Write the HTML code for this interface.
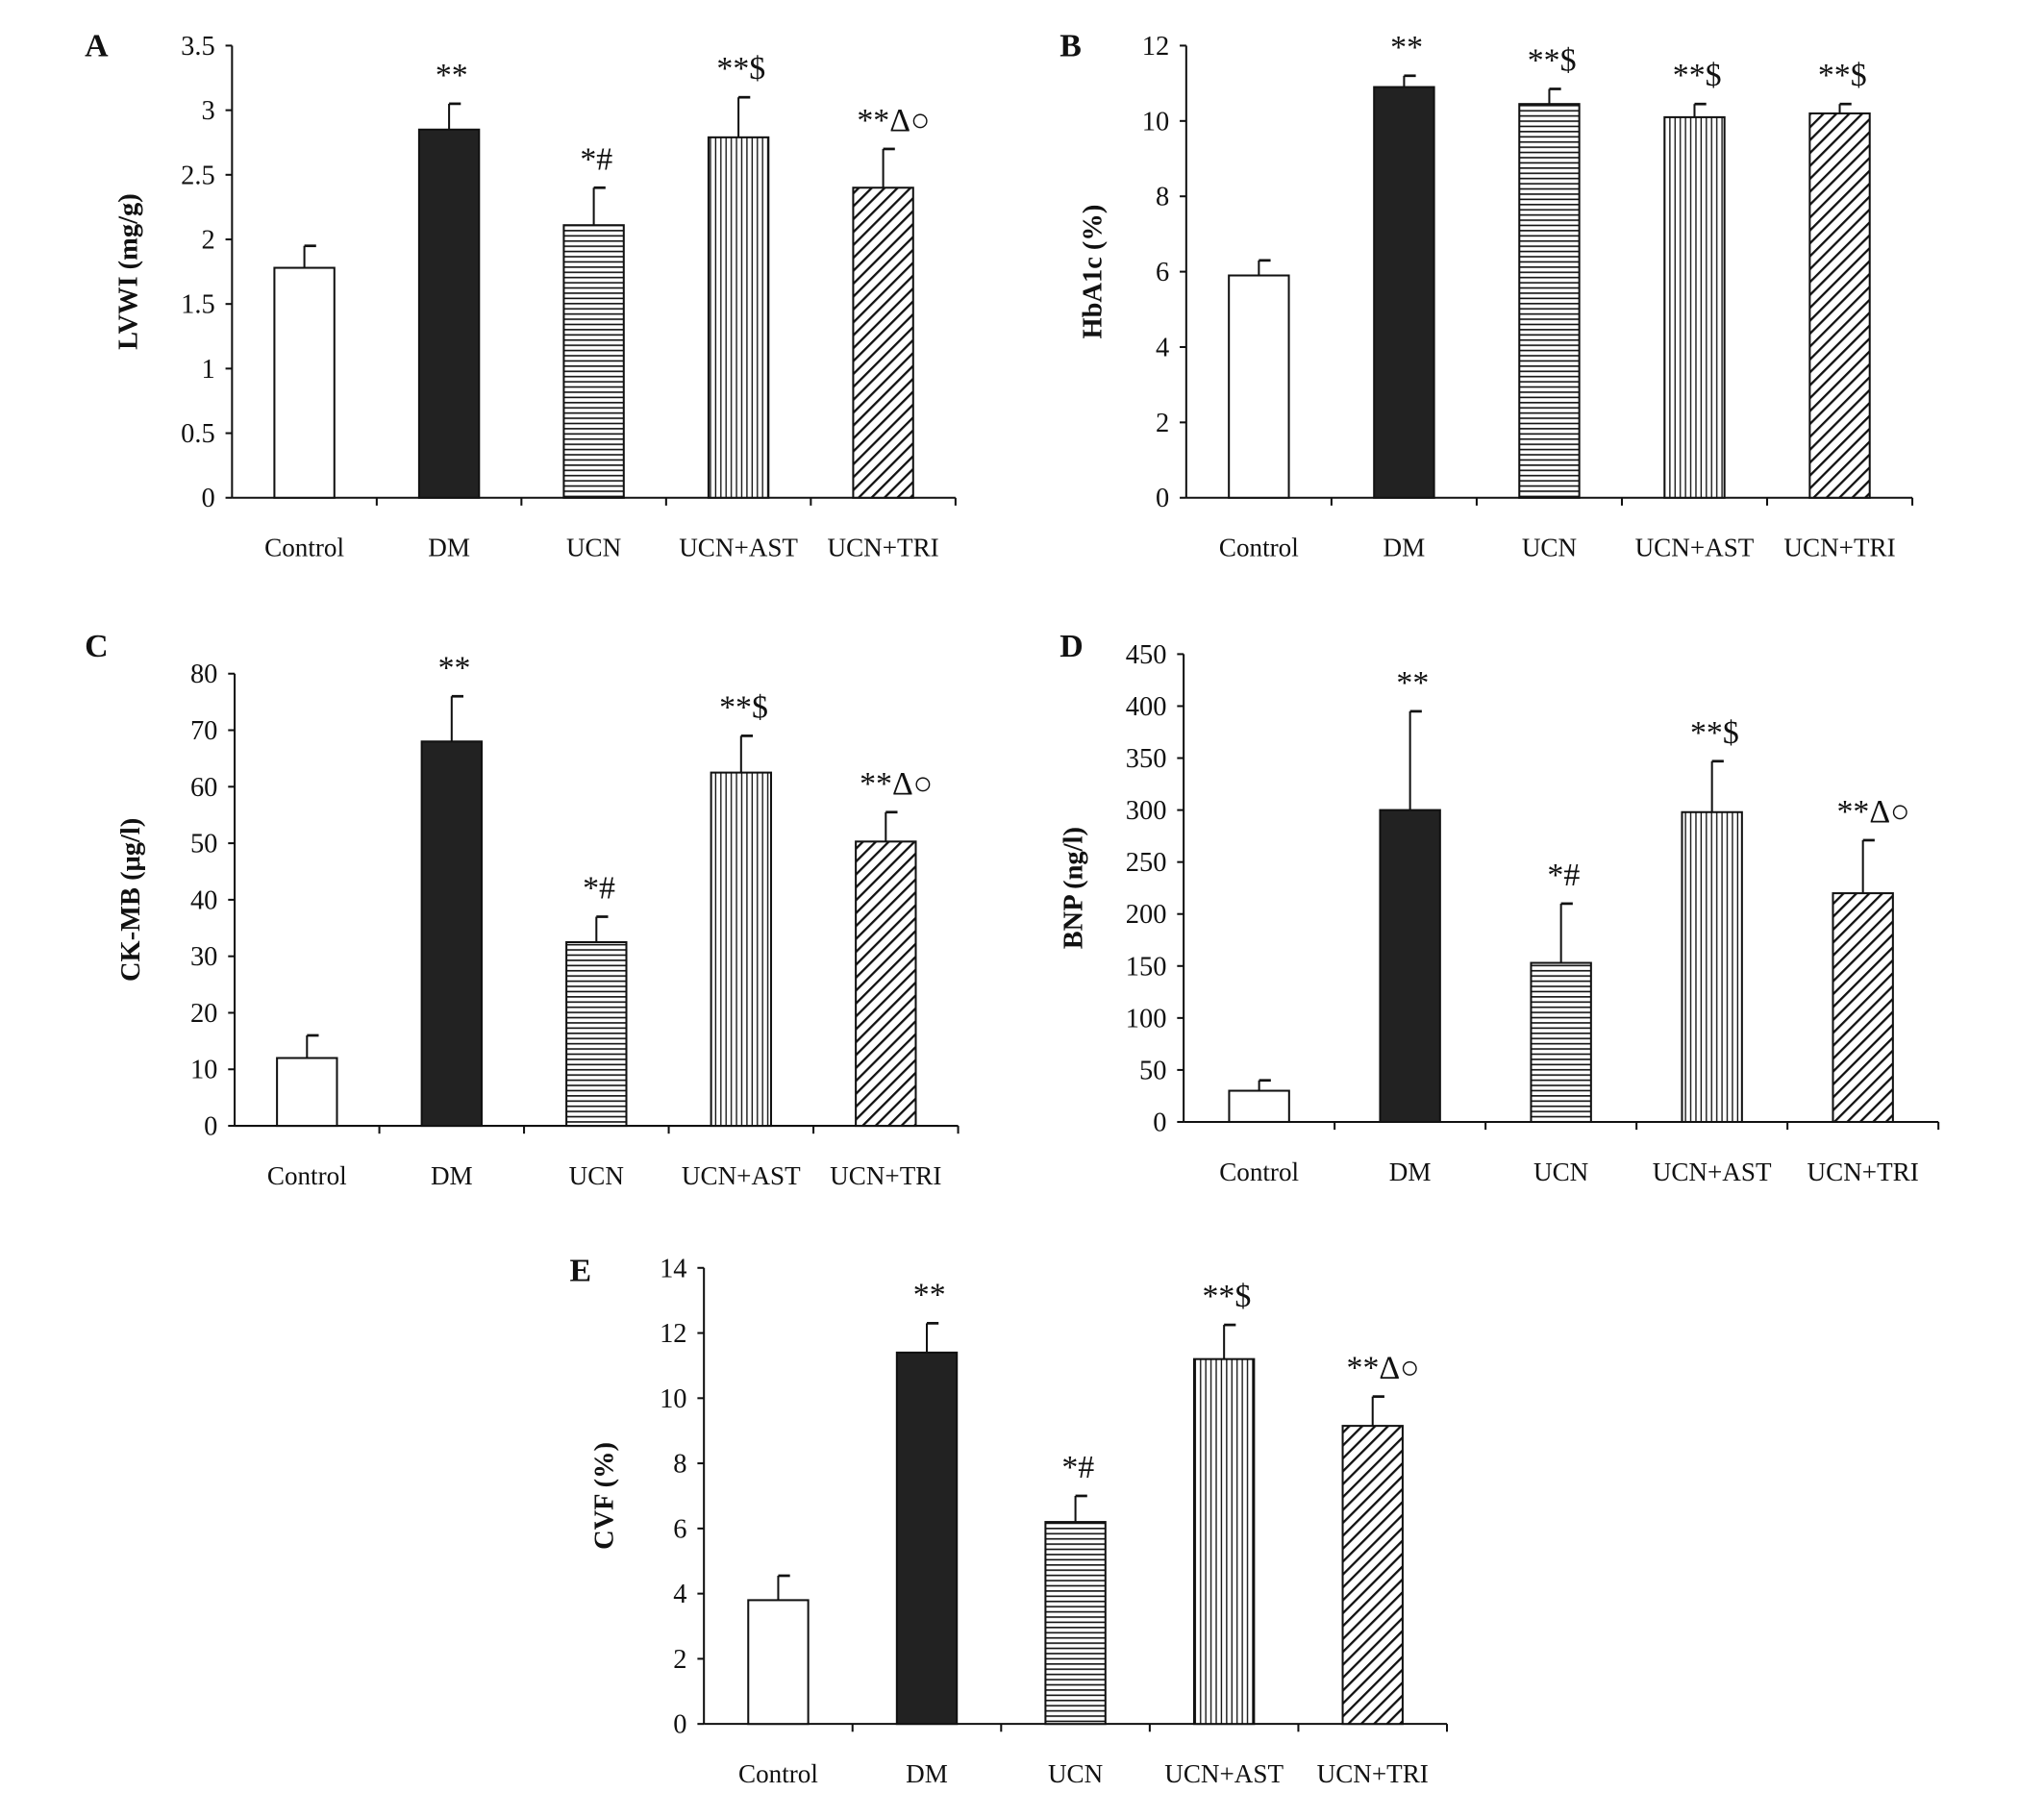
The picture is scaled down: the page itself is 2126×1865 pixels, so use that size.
<!DOCTYPE html>
<html><head><meta charset="utf-8"><style>
html,body{margin:0;padding:0;background:#fff}
svg{display:block}
text{font-family:"Liberation Serif",serif;fill:#111}
</style></head><body>
<svg id="fig" width="2126" height="1865" viewBox="0 0 1568 1376" preserveAspectRatio="none" xmlns="http://www.w3.org/2000/svg">
<defs>
<pattern id="pH" width="4" height="4" patternUnits="userSpaceOnUse"><rect width="4" height="4" fill="#fff"/><line x1="0" y1="1" x2="4" y2="1" stroke="#111" stroke-width="1.2"/></pattern>
<pattern id="pV" width="4" height="4" patternUnits="userSpaceOnUse"><rect width="4" height="4" fill="#fff"/><line x1="1" y1="0" x2="1" y2="4" stroke="#111" stroke-width="1"/></pattern>
<pattern id="pD" width="7" height="7" patternUnits="userSpaceOnUse" patternTransform="rotate(45)"><rect width="7" height="7" fill="#fff"/><line x1="0" y1="0" x2="0" y2="7" stroke="#111" stroke-width="3.4"/></pattern>
</defs>
</svg>
<script>
const categories = ["Control","DM","UCN","UCN+AST","UCN+TRI"];
const valuesA = [1.78, 2.85, 2.11, 2.79, 2.40];
const errorsA = [1.95, 3.05, 2.40, 3.10, 2.70];
const ticksA = ["0","0.5","1","1.5","2","2.5","3","3.5"];
const valuesB = [5.9, 10.9, 10.45, 10.1, 10.2];
const errorsB = [6.3, 11.2, 10.85, 10.45, 10.45];
const ticksB = ["0","2","4","6","8","10","12"];
const valuesC = [12, 68, 32.5, 62.5, 50.3];
const errorsC = [16, 76, 37, 69, 55.5];
const ticksC = ["0","10","20","30","40","50","60","70","80"];
const valuesD = [30, 300, 153, 298, 220];
const errorsD = [40, 395, 210, 347, 271];
const ticksD = ["0","50","100","150","200","250","300","350","400","450"];
const valuesE = [3.8, 11.4, 6.2, 11.2, 9.15];
const errorsE = [4.55, 12.3, 7.0, 12.25, 10.05];
const ticksE = ["0","2","4","6","8","10","12","14"];
const annotAC = ["", "**", "*#", "**$", "**Δ○"];
const annotB = ["", "**", "**$", "**$", "**$"];

const NS = "http://www.w3.org/2000/svg";
const svg = document.getElementById("fig");
const fills = ["#fff","#222","url(#pH)","url(#pV)","url(#pD)"];
function mk(tag, attrs, parent){const e=document.createElementNS(NS,tag);for(const k in attrs)e.setAttribute(k,attrs[k]);(parent||svg).appendChild(e);return e;}

function panel(cfg){
  const g = mk("g",{});
  
  
  const L=cfg.left,R=cfg.right,B=cfg.bottom,T=cfg.top;
  const max=parseFloat(cfg.ticks[cfg.ticks.length-1]);
  const y=v=>B-(v/max)*(B-T);
  const sp=(R-L)/categories.length;
  const x=i=>L+sp*(i+0.5);
  const bw=46;
  const lt=mk("text",{x:cfg.lx,y:cfg.ly,"font-size":"25","font-weight":"bold"},g);lt.textContent=cfg.letter;
  
  
  const yt=mk("text",{transform:`translate(${cfg.tx},${(T+B)/2}) rotate(-90)`,"text-anchor":"middle","font-size":"21","font-weight":"bold"},g);yt.textContent=cfg.title;
  
  
  mk("line",{x1:L,y1:T,x2:L,y2:B,stroke:"#111","stroke-width":"1.5"},g);
  mk("line",{x1:L,y1:B,x2:R,y2:B,stroke:"#111","stroke-width":"1.5"},g);
  cfg.ticks.forEach(t=>{
    const v=parseFloat(t);
    mk("line",{x1:L-5,y1:y(v),x2:L,y2:y(v),stroke:"#111","stroke-width":"1.5"},g);
    const tx=mk("text",{x:L-13,y:y(v)+7,"text-anchor":"end","font-size":"21"},g);tx.textContent=t;
    
    
  });
  for(let k=1;k<=categories.length;k++){mk("line",{x1:L+sp*k,y1:B,x2:L+sp*k,y2:B+6,stroke:"#111","stroke-width":"1.5"},g);}
  categories.forEach((c,i)=>{
    const v=cfg.values[i],e=cfg.errors[i];
    mk("line",{x1:x(i),y1:y(e),x2:x(i),y2:y(v),stroke:"#111","stroke-width":"1.5"},g);
    mk("line",{x1:x(i),y1:y(e),x2:x(i)+9,y2:y(e),stroke:"#111","stroke-width":"2"},g);
    const r=mk("rect",{x:x(i)-bw/2,y:y(v),width:bw,height:B-y(v),fill:fills[i],stroke:"#111","stroke-width":"1.5"},g);
    
    
    const cl=mk("text",{x:x(i),y:B+45,"text-anchor":"middle","font-size":"20"},g);cl.textContent=c;
    
    
    if(cfg.annot[i]){
      const a=mk("text",{x:x(i)+(cfg.annot[i].length>3?8:2),y:y(e)-14,"text-anchor":"middle","font-size":"25"},g);a.textContent=cfg.annot[i];
      
      
    }
  });
}
panel({letter:"A",lx:65,ly:43,tx:105,title:"LVWI (mg/g)",left:178,right:733,top:35,bottom:382,ticks:ticksA,values:valuesA,errors:errorsA,annot:annotAC});
panel({letter:"B",lx:813,ly:43,tx:845,title:"HbA1c (%)",left:910,right:1467,top:35,bottom:382,ticks:ticksB,values:valuesB,errors:errorsB,annot:annotB});
panel({letter:"C",lx:65,ly:504,tx:107,title:"CK-MB (μg/l)",left:180,right:735,top:517,bottom:864,ticks:ticksC,values:valuesC,errors:errorsC,annot:annotAC});
panel({letter:"D",lx:813,ly:504,tx:830,title:"BNP (ng/l)",left:908,right:1487,top:502,bottom:861,ticks:ticksD,values:valuesD,errors:errorsD,annot:annotAC});
panel({letter:"E",lx:437,ly:983,tx:470,title:"CVF (%)",left:540,right:1110,top:973,bottom:1323,ticks:ticksE,values:valuesE,errors:errorsE,annot:annotAC});
</script>
</body></html>
